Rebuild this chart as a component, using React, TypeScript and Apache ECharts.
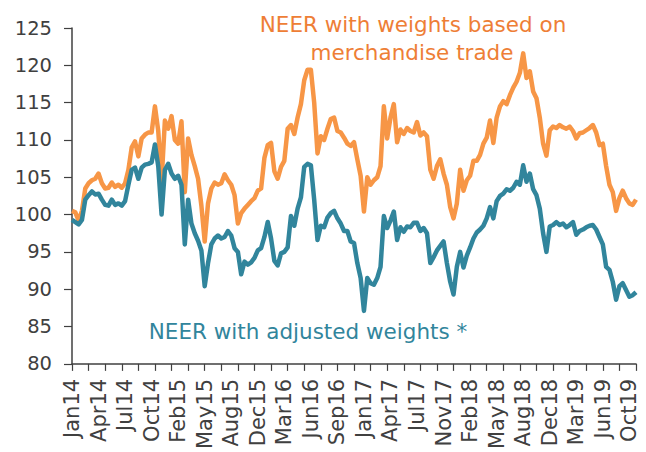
import React, { useEffect, useRef } from "react";
import * as echarts from "echarts";

const tickLabels = ["Jan14","Apr14","Jul14","Oct14","Feb15","May15","Aug15","Dec15","Mar16","Jun16","Sep16","Jan17","Apr17","Jul17","Nov17","Feb18","May18","Aug18","Dec18","Mar19","Jun19","Oct19"];

const merchandiseNeer = [
  100.5,100.3,99.2,100.5,103.5,104.2,104.6,104.8,105.5,104.2,
  103.5,103.6,104.3,103.7,104.0,103.6,104.2,106.0,109.0,109.8,
  107.8,110.2,110.7,111.0,111.0,114.5,111.2,104.5,112.6,111.5,
  113.2,110.0,109.5,112.5,103.0,110.2,108.0,106.5,104.8,101.2,
  96.4,101.5,103.5,104.3,104.0,104.2,105.4,104.6,104.0,102.6,
  98.8,100.2,100.8,101.3,101.8,102.2,103.2,103.5,107.6,109.3,
  109.6,105.8,104.8,106.4,107.2,111.5,112.0,110.8,113.0,114.8,
  118.0,119.4,119.4,115.0,108.2,110.5,110.0,111.5,112.8,113.0,
  111.2,111.0,110.3,109.5,109.2,109.7,107.4,105.2,100.4,105.0,
  104.0,104.6,105.0,106.5,114.5,110.2,113.0,114.8,109.7,111.4,
  110.8,111.6,111.2,111.0,112.4,110.6,111.0,110.5,106.0,104.8,
  106.5,107.4,105.5,104.0,101.0,99.5,101.5,106.0,103.2,104.6,
  105.2,107.2,107.2,108.0,109.5,110.3,112.6,109.6,113.0,114.5,
  115.2,114.8,116.0,117.0,117.8,119.0,121.6,118.3,119.2,116.5,
  115.6,113.0,109.5,107.9,111.3,111.8,111.6,112.0,111.7,111.5,
  111.8,111.2,110.2,110.9,111.0,111.3,111.6,112.0,111.0,109.3,
  109.5,106.5,104.0,103.0,100.5,102.2,103.2,102.2,101.5,101.3,
  102.0
];

const adjustedNeer = [
  99.3,99.0,98.7,99.3,102.0,102.6,103.1,102.7,102.8,102.0,
  101.3,101.2,102.0,101.3,101.5,101.2,101.8,104.0,106.0,106.3,
  104.8,106.3,106.7,106.8,107.0,109.4,106.5,100.0,106.0,106.8,
  105.5,104.8,105.2,104.0,96.0,102.0,98.8,97.5,96.5,95.2,
  90.4,93.5,96.0,96.8,97.2,96.8,97.0,97.8,97.2,95.5,
  95.0,92.0,93.7,93.3,93.6,94.2,95.2,95.5,97.0,99.0,
  96.8,93.8,93.2,94.8,95.0,95.6,99.8,98.5,100.8,102.3,
  106.4,106.8,106.6,102.0,96.6,98.5,98.3,99.6,100.2,100.5,
  99.5,98.8,97.8,97.8,96.4,96.2,93.5,91.5,87.1,91.5,
  90.8,90.6,91.5,93.0,99.8,98.2,99.2,100.4,96.6,98.3,
  97.7,98.4,98.3,98.9,98.9,97.8,98.2,97.5,93.5,94.3,
  95.2,95.8,96.4,93.5,91.0,89.3,93.0,95.0,92.9,94.5,
  95.6,96.8,97.6,98.0,98.5,99.5,101.0,99.5,101.8,102.5,
  102.8,103.4,103.2,103.6,104.4,104.0,106.6,104.4,105.5,103.4,
  102.6,100.8,97.5,95.0,98.4,98.6,99.0,98.6,98.8,98.3,
  98.6,99.0,97.3,97.8,98.0,98.3,98.5,98.6,98.0,97.0,
  96.0,93.0,92.6,91.0,88.6,90.4,90.8,89.9,89.0,89.2,
  89.6
];

const LABEL_STEP = 8;
const categories = merchandiseNeer.map((_, i) =>
  i % LABEL_STEP === 0 && tickLabels[i / LABEL_STEP] ? tickLabels[i / LABEL_STEP] : "p" + i
);

const FONT = "DejaVu Sans";
const ORANGE_LINE = "#F79646";
const ORANGE_TEXT = "#EE7E36";
const TEAL = "#31859C";
const AXIS = "#404040";

export default function App() {
  const ref = useRef<HTMLDivElement>(null);
  useEffect(() => {
    if (!ref.current) return;
    const chart = echarts.init(ref.current, null, { renderer: "svg" });
    chart.setOption({
      animation: false,
      backgroundColor: "#ffffff",
      grid: { left: 72, right: 10, top: 28, bottom: 86, containLabel: false },
      xAxis: {
        type: "category",
        data: categories,
        boundaryGap: false,
        axisLine: { lineStyle: { color: AXIS, width: 1.5 } },
        axisTick: { interval: 4, length: 7, lineStyle: { color: AXIS, width: 1.2 } },
        axisLabel: {
          interval: LABEL_STEP - 1,
          rotate: 90,
          margin: 15,
          color: AXIS,
          fontFamily: FONT,
          fontSize: 21,
          formatter: (v: string) => (v.startsWith("p") ? "" : v),
        },
        splitLine: { show: false },
      },
      yAxis: {
        type: "value",
        min: 80,
        max: 125,
        interval: 5,
        axisLine: { show: true, lineStyle: { color: AXIS, width: 1.5 } },
        axisTick: { show: true, length: 8, lineStyle: { color: AXIS, width: 1.2 } },
        axisLabel: { margin: 20, color: AXIS, fontFamily: FONT, fontSize: 19.5 },
        splitLine: { show: false },
      },
      series: [
        {
          name: "NEER with weights based on merchandise trade",
          type: "line",
          data: merchandiseNeer,
          showSymbol: false,
          symbol: "none",
          lineStyle: { color: ORANGE_LINE, width: 4.5, join: "round" },
          itemStyle: { color: ORANGE_LINE },
        },
        {
          name: "NEER with adjusted weights *",
          type: "line",
          data: adjustedNeer,
          showSymbol: false,
          symbol: "none",
          lineStyle: { color: TEAL, width: 4.5, join: "round" },
          itemStyle: { color: TEAL },
        },
      ],
      graphic: [
        {
          type: "text",
          x: 413,
          y: 24.5,
          style: {
            text: "NEER with weights based on",
            fill: ORANGE_TEXT,
            font: `21.5px "${FONT}"`,
            textAlign: "center",
            textVerticalAlign: "middle",
          },
        },
        {
          type: "text",
          x: 412,
          y: 52.5,
          style: {
            text: "merchandise trade",
            fill: ORANGE_TEXT,
            font: `21.5px "${FONT}"`,
            textAlign: "center",
            textVerticalAlign: "middle",
          },
        },
        {
          type: "text",
          x: 308,
          y: 331,
          style: {
            text: "NEER with adjusted weights *",
            fill: TEAL,
            font: `21.5px "${FONT}"`,
            textAlign: "center",
            textVerticalAlign: "middle",
          },
        },
      ],
    });
    return () => chart.dispose();
  }, []);
  return (
    <div
      ref={ref}
      style={{ position: "fixed", left: 0, top: 0, width: 646, height: 452, background: "#fff" }}
    />
  );
}
